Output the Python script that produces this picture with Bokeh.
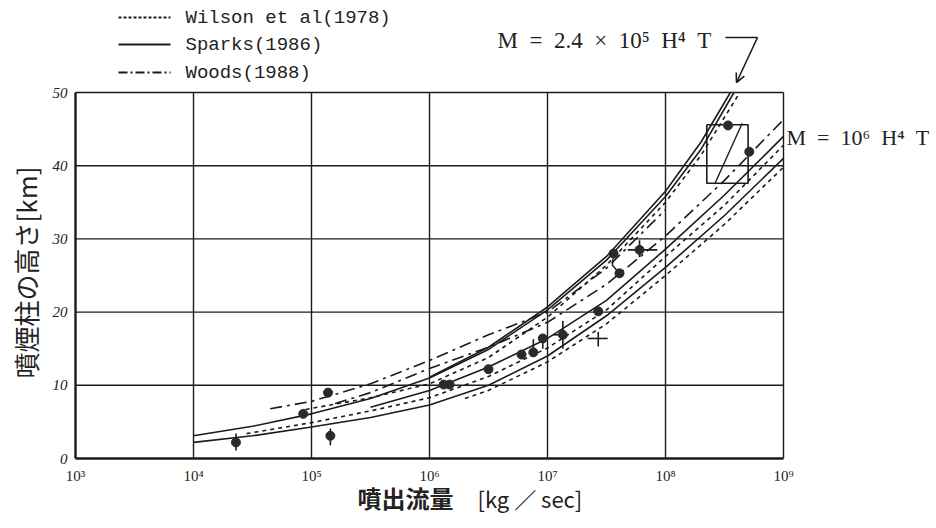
import math
from bokeh.plotting import figure
from bokeh.models import (FixedTicker, CustomJSTickFormatter, Label, Arrow,
                          OpenHead, LogAxis, LinearAxis, Range1d)
from bokeh.embed import file_html
from bokeh.resources import INLINE

# ---------------- data (log10 of mass flux [kg/s], height [km]) ----------------
x_tick_exponents = [3, 4, 5, 6, 7, 8, 9]
y_ticks = [0, 10, 20, 30, 40, 50]

# Sparks (1986) - solid
sparks1_logm = [4.0, 4.5, 5.0, 5.5, 6.0, 6.5, 7.0, 7.5, 8.0, 8.3, 8.58]
sparks1_h = [3.1, 4.4, 6.1, 8.2, 11.0, 14.9, 20.3, 27.1, 35.8, 42.2, 50.0]
sparks2_logm = [6.0, 6.5, 7.0, 7.5, 8.0, 8.3, 8.55]
sparks2_h = [11.1, 15.2, 20.7, 27.6, 36.5, 43.2, 50.0]
sparks3_logm = [5.5, 6.0, 6.5, 7.0, 7.5, 8.0, 8.5, 9.0]
sparks3_h = [7.0, 9.3, 12.5, 16.4, 21.6, 28.6, 36.0, 44.0]
sparks4_logm = [4.0, 4.5, 5.0, 5.5, 6.0, 6.5, 7.0, 7.5, 8.0, 8.5, 9.0]
sparks4_h = [2.2, 3.1, 4.3, 5.6, 7.3, 10.0, 14.0, 19.5, 26.1, 33.2, 41.0]

# Wilson et al (1978) - dotted
wilson1_logm = [4.95, 5.5, 6.0, 6.5, 7.0, 7.5, 8.0, 8.3, 8.63]
wilson1_h = [6.7, 8.3, 10.2, 13.8, 19.3, 26.4, 35.0, 41.4, 50.0]
wilson2_logm = [4.45, 5.0, 5.5, 6.0, 6.5, 7.0, 7.5, 8.0, 8.5, 9.0]
wilson2_h = [3.4, 4.9, 6.5, 8.3, 11.2, 15.1, 20.3, 27.6, 34.6, 42.8]
wilson3_logm = [6.3, 6.5, 7.0, 7.5, 8.0, 8.5, 9.0]
wilson3_h = [8.2, 9.3, 13.2, 18.4, 25.0, 32.0, 39.8]

# Woods (1988) - dash-dot
woods1_logm = [4.65, 5.0, 5.5, 6.0, 6.5, 7.0, 7.5, 8.0]
woods1_h = [6.8, 7.8, 10.2, 13.4, 16.9, 20.0, 26.0, 34.0]
woods2_logm = [5.2, 5.5, 6.0, 6.5, 7.0, 7.5, 8.0, 8.5, 9.0]
woods2_h = [7.5, 9.0, 12.3, 15.2, 18.6, 23.8, 30.4, 38.0, 46.3]

# observed eruptions (dots)
obs_logm = [4.36, 4.93, 5.14, 5.16, 6.12, 6.17, 6.50, 6.78, 6.88, 6.96,
            7.13, 7.56, 7.61, 7.78, 7.43, 8.53, 8.71]
obs_h = [2.2, 6.1, 9.0, 3.1, 10.1, 10.1, 12.2, 14.2, 14.5, 16.4,
         16.9, 28.0, 25.3, 28.5, 20.1, 45.5, 41.9]
# vertical error bars (log M, low H, high H)
vbar_logm = [4.36, 5.16, 6.88, 6.96, 7.13, 7.43, 7.78]
vbar_lo = [1.1, 1.8, 14.5, 15.0, 15.0, 15.3, 27.5]
vbar_hi = [3.4, 4.1, 16.3, 16.5, 18.8, 17.3, 29.8]
# horizontal error bars (H, low log M, high log M)
hbar_h = [16.9, 16.4, 28.5]
hbar_lo = [7.05, 7.34, 7.68]
hbar_hi = [7.17, 7.51, 7.93]
# bracket joining two observations
link_logm = [7.56, 7.55, 7.61]
link_h = [28.0, 26.4, 25.3]
# uncertainty box
box_logm = [8.35, 8.70, 8.70, 8.35, 8.35]
box_h = [45.6, 45.6, 37.6, 37.6, 45.6]
box_diag_logm = [8.42, 8.65]
box_diag_h = [37.6, 45.8]


def m(vals):
    return [10 ** v for v in vals]


# ---------------- figure ----------------
# The frame covers the whole canvas so that legend / formula texts can sit
# around the plotting box; the axes are pinned at the box edges.
W, H = 936, 528
BOX_L, BOX_R, BOX_T, BOX_B = 75, 783, 92, 458      # box edges in canvas px
xmin, xmax = x_tick_exponents[0], x_tick_exponents[-1]
ymin, ymax = y_ticks[0], y_ticks[-1]
dx = (xmax - xmin) / (BOX_R - BOX_L)
dy = (ymax - ymin) / (BOX_B - BOX_T)
x_range = Range1d(10 ** (xmin - BOX_L * dx), 10 ** (xmax + (W - BOX_R) * dx))
y_range = Range1d(ymin - (H - BOX_B) * dy, ymax + BOX_T * dy)

INK = "#1b1b1b"
TXT = "#222222"
p = figure(width=W, height=H, x_axis_type="log", x_range=x_range, y_range=y_range,
           x_axis_location=None, y_axis_location=None,
           output_backend="svg", toolbar_location=None, min_border=0)
p.outline_line_color = None
p.background_fill_color = "white"
p.border_fill_color = "white"
for g in p.grid:
    g.visible = False

x_ticks = [10 ** e for e in x_tick_exponents]

# grid lines (from the tick lists)
p.segment(x0=x_ticks[1:], y0=[ymin] * (len(x_ticks) - 1),
          x1=x_ticks[1:], y1=[ymax] * (len(x_ticks) - 1),
          line_color=INK, line_width=1.4)
p.segment(x0=[x_ticks[0]] * (len(y_ticks) - 1), y0=y_ticks[1:],
          x1=[x_ticks[-1]] * (len(y_ticks) - 1), y1=y_ticks[1:],
          line_color=INK, line_width=1.4)

xaxis = LogAxis(fixed_location=ymin, bounds=(x_ticks[0], x_ticks[-1]),
                ticker=FixedTicker(ticks=x_ticks))
xaxis.formatter = CustomJSTickFormatter(code="""
const s = {3:'\u00b3',4:'\u2074',5:'\u2075',6:'\u2076',7:'\u2077',8:'\u2078',9:'\u2079'};
const e = Math.round(Math.log10(tick));
return '10' + s[e];
""")
yaxis = LinearAxis(fixed_location=x_ticks[0], bounds=(ymin, ymax),
                   ticker=FixedTicker(ticks=y_ticks))
for ax in (xaxis, yaxis):
    ax.major_tick_line_color = None
    ax.minor_tick_line_color = None
    ax.major_tick_out = 0
    ax.major_tick_in = 0
    ax.axis_line_width = 2.4
    ax.axis_line_color = INK
    ax.major_label_text_color = TXT
    ax.major_label_text_font = "Liberation Serif"
    ax.major_label_text_font_size = "15px"
yaxis.major_label_text_font_style = "italic"
yaxis.major_label_standoff = 8
xaxis.major_label_standoff = 9
p.add_layout(xaxis, "below")
p.add_layout(yaxis, "left")

LW = 1.6
WIL_D = "4 4"
WOO_D = "12 5 3 5"

for lm, h in [(sparks1_logm, sparks1_h), (sparks2_logm, sparks2_h),
              (sparks3_logm, sparks3_h), (sparks4_logm, sparks4_h)]:
    p.line(m(lm), h, line_color=INK, line_width=LW)
for lm, h in [(wilson1_logm, wilson1_h), (wilson2_logm, wilson2_h),
              (wilson3_logm, wilson3_h)]:
    p.line(m(lm), h, line_color=INK, line_width=LW, line_dash=WIL_D)
for lm, h in [(woods1_logm, woods1_h), (woods2_logm, woods2_h)]:
    p.line(m(lm), h, line_color=INK, line_width=LW, line_dash=WOO_D)

p.line(m(box_logm), box_h, line_color=INK, line_width=1.6)
p.line(m(box_diag_logm), box_diag_h, line_color=INK, line_width=1.4)
p.line(m(link_logm), link_h, line_color=INK, line_width=1.4)

p.segment(x0=m(vbar_logm), y0=vbar_lo, x1=m(vbar_logm), y1=vbar_hi,
          line_color=INK, line_width=1.6)
p.segment(x0=m(hbar_lo), y0=hbar_h, x1=m(hbar_hi), y1=hbar_h,
          line_color=INK, line_width=1.6)
p.scatter(m(obs_logm), obs_h, size=9, marker="circle",
          fill_color="#2a2a2a", line_color="#2a2a2a")

# ---------------- legend (screen units, origin = canvas bottom-left) ----------------
def sy(y_from_top):
    return H - y_from_top

leg_items = [("Wilson et al(1978)", "3 2"), ("Sparks(1986)", "solid"),
             ("Woods(1988)", "9 3 2 3")]
leg_y = [17, 44, 72]
for (txt, dash), yy in zip(leg_items, leg_y):
    p.add_layout(Arrow(x_start=118, y_start=sy(yy), x_end=170, y_end=sy(yy),
                       start_units="screen", end_units="screen", end=None,
                       line_color=INK, line_width=1.8, line_dash=dash))
    p.add_layout(Label(x=185, y=sy(yy), x_units="screen", y_units="screen",
                       text=txt, text_font="Liberation Mono", text_font_size="19px",
                       text_color=TXT, text_baseline="middle"))

# formula annotations
SP = "\u2002"
p.add_layout(Label(x=497, y=sy(40), x_units="screen", y_units="screen",
                   text=f"M{SP}={SP}2.4{SP}×{SP}10⁵{SP}H⁴{SP}T",
                   text_font="Liberation Serif",
                   text_font_size="23px", text_color=TXT, text_baseline="middle"))
p.add_layout(Arrow(x_start=725, y_start=sy(37), x_end=757, y_end=sy(37),
                   start_units="screen", end_units="screen", end=None,
                   line_color=INK, line_width=1.6))
p.add_layout(Arrow(x_start=757, y_start=sy(37), x_end=736, y_end=sy(82),
                   start_units="screen", end_units="screen",
                   end=OpenHead(size=9, line_color=INK, line_width=1.6),
                   line_color=INK, line_width=1.6))
p.add_layout(Label(x=786, y=sy(137), x_units="screen", y_units="screen",
                   text=f"M{SP}={SP}10⁶{SP}H⁴{SP}T", text_font="Liberation Serif",
                   text_font_size="22px", text_color=TXT, text_baseline="middle"))

# axis titles
p.add_layout(Label(x=25, y=sy(272), x_units="screen", y_units="screen",
                   text="噴煙柱の高さ[km]", text_font="Noto Sans CJK JP",
                   text_font_size="26px", text_color=TXT,
                   text_align="center", text_baseline="middle",
                   angle=math.pi / 2))
p.add_layout(Label(x=357, y=sy(497), x_units="screen", y_units="screen",
                   text="噴出流量", text_font="Noto Sans CJK JP",
                   text_font_size="24px", text_font_style="bold",
                   text_color=TXT, text_baseline="middle"))
p.add_layout(Label(x=477, y=sy(497), x_units="screen", y_units="screen",
                   text="[kg ／ sec]", text_font="Noto Sans CJK JP",
                   text_font_size="22px", text_color=TXT,
                   text_baseline="middle"))

open("out.html", "w").write(file_html(p, INLINE))
